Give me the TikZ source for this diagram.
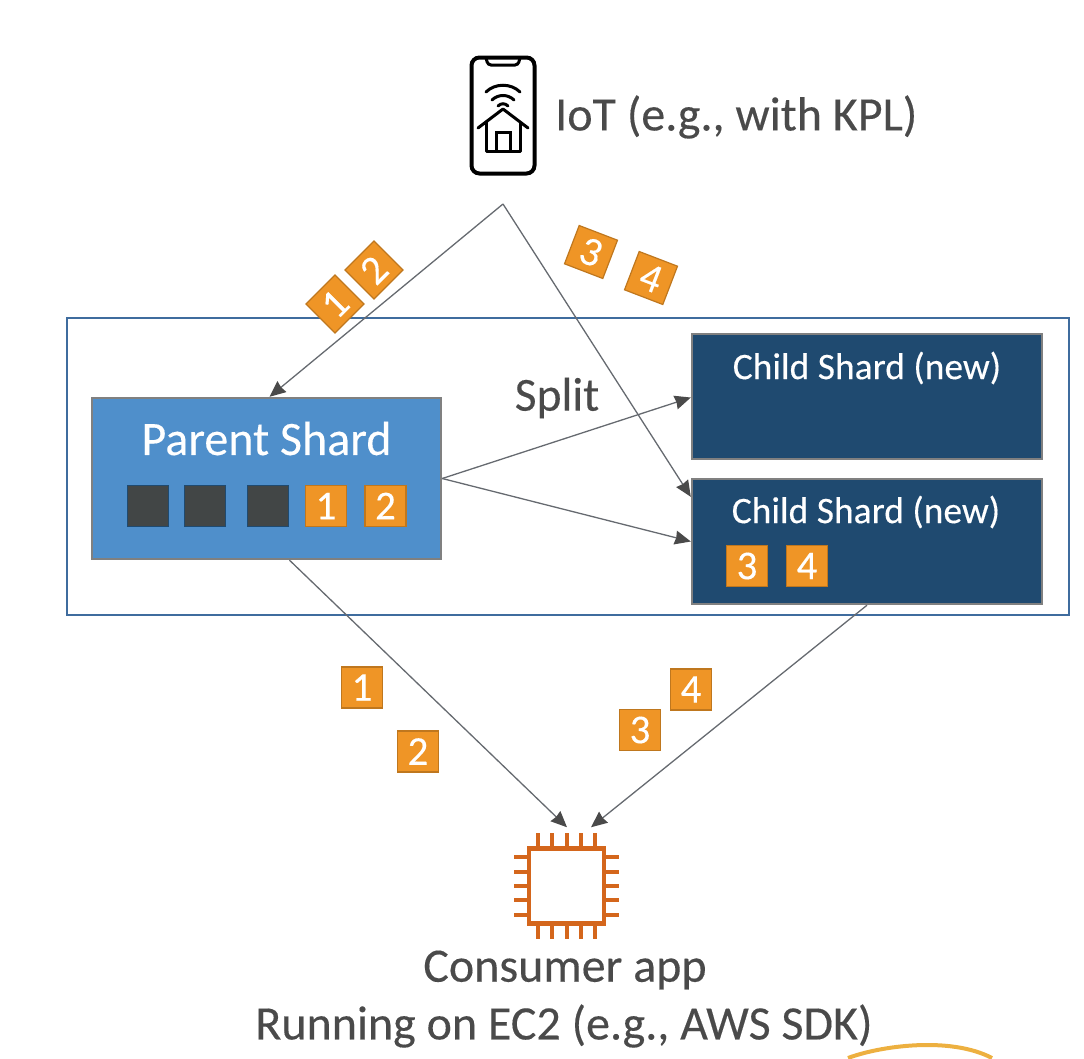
\documentclass[tikz,border=0pt]{standalone}
\usepackage{fontspec}
\setmainfont{Carlito}
\usetikzlibrary{arrows.meta}
\definecolor{txtgray}{HTML}{4A4A4A}
\definecolor{linegray}{HTML}{666A70}
\definecolor{shardblue}{HTML}{4F8FCB}
\definecolor{shardnavy}{HTML}{1F4A70}
\definecolor{frameblue}{HTML}{3F6C9E}
\definecolor{recorange}{HTML}{EF9526}
\definecolor{recdark}{HTML}{424646}
\definecolor{chiporange}{HTML}{D4661C}
\definecolor{arcyellow}{HTML}{EDB040}
\newcommand{\fsz}[1]{\fontsize{#1}{#1}\selectfont\addfontfeature{FakeBold=0.25}}
\tikzset{
    shard/.style={draw=gray,line width=2.4pt,inner sep=0pt,text=white},
    rec/.style={draw=recorange!80!black,line width=1.2pt,fill=recorange,text=white,minimum size=41pt,inner sep=0pt,font=\fsz{41}},
    recoff/.style={draw=shardnavy,line width=1.2pt,fill=recdark,minimum size=41pt,inner sep=0pt},
    lab/.style={text=txtgray,inner sep=0pt},
    flow/.style={draw=linegray,line width=1.3pt,-{Stealth[inset=1pt,length=16pt,width=14pt,color=txtgray,fill=txtgray]}},
}
\begin{document}
\begin{tikzpicture}[x=1pt,y=-1pt]
\useasboundingbox (0,0) rectangle (1084,1058);
\node[draw=frameblue,line width=2pt,minimum width=1002pt,minimum height=297pt,inner sep=0pt] (stream) at (568,466.5) {};
\node[shard,fill=shardblue,minimum width=349pt,minimum height=161pt] (parent) at (266.5,478.5) {};
\node[shard,fill=shardnavy,minimum width=350pt,minimum height=125pt] (childa) at (867,396.5) {};
\node[shard,fill=shardnavy,minimum width=350pt,minimum height=125pt] (childb) at (867,541.5) {};
\node[text=white,inner sep=0pt,font=\fsz{48}] (parentlab) at (266.5,438.5) {Parent Shard};
\node[text=white,inner sep=0pt,font=\fsz{37.5}] (childalab) at (867,368) {Child Shard (new)};
\node[text=white,inner sep=0pt,font=\fsz{37.5}] (childblab) at (866,512) {Child Shard (new)};
% phone with house
\node[draw=black,line width=4pt,rounded corners=8pt,minimum width=63pt,minimum height=116pt,inner sep=0pt] (iot) at (503,115.5) {};
\draw[black,line width=3pt,rounded corners=3pt] (486,58) -- (488,65) -- (518,65) -- (520,58);
\draw[black,line width=3pt,line cap=round] (486,92) .. controls (495,83) and (511,83) .. (520,92);
\draw[black,line width=3pt,line cap=round] (492,100) .. controls (498,94) and (508,94) .. (514,100);
\draw[black,line width=3pt,line cap=round] (498,106) .. controls (501,103) and (505,103) .. (508,106);
\draw[black,line width=3pt,line cap=round,line join=round] (478,128) -- (503,109) -- (528,128);
\draw[black,line width=3pt,line join=round] (486,122) -- (486,151) -- (520,151) -- (520,122);
\draw[black,line width=3pt] (496,151) -- (496,132) -- (510,132) -- (510,151);
\node[lab,anchor=west,font=\fsz{48}] (iotlab) at (555,117) {IoT (e.g., with KPL)};
\coordinate (fork) at (503,204);
\draw[flow] (fork) -- ([xshift=3pt]parent.north);
\draw[flow] (fork) -- ([yshift=-19pt]childb.north west);
\draw[flow] (parent.east) -- ([yshift=-1pt]childa.west);
\draw[flow] (parent.east) -- (childb.west);
\node[lab,font=\fsz{47.5}] (split) at (557,398) {Split};
% chip
\node[draw=chiporange,line width=4.5pt,fill=white,minimum size=75pt,inner sep=0pt] (chip) at (566.5,886) {};
\foreach \i in {-2,...,2} {
    \draw[chiporange,line width=4pt] ([xshift=\i*14.4pt]chip.north) -- ++(0,-13);
    \draw[chiporange,line width=4pt] ([xshift=\i*14.4pt]chip.south) -- ++(0,13);
    \draw[chiporange,line width=4pt] ([yshift=\i*14.4pt]chip.west) -- ++(-13,0);
    \draw[chiporange,line width=4pt] ([yshift=\i*14.4pt]chip.east) -- ++(13,0);
}
\draw[flow] ([xshift=23pt]parent.south) -- ([xshift=0.5pt,yshift=19pt]chip.north);
\draw[flow] (childb.south) -- ([xshift=24.5pt,yshift=19pt]chip.north);
\node[lab,font=\fsz{48}] (applab) at (565,970) {Consumer app};
\node[lab,font=\fsz{48}] (sdklab) at (564,1026) {Running on EC2 (e.g., AWS SDK)};
% records
\node[recoff] at (148,506) (pa) {};
\node[recoff] at (205,506) (pb) {};
\node[recoff] at (268,506) (pc) {};
\node[rec] at (326,506) (pone) {1};
\node[rec] at (385.5,506) (ptwo) {2};
\node[rec] at (747,566) (cthree) {3};
\node[rec] at (807,566) (cfour) {4};
\node[rec,rotate=45] at (335,304) (inone) {1};
\node[rec,rotate=45] at (374,270) (intwo) {2};
\node[rec,rotate=-21] at (591,252) (inthree) {3};
\node[rec,rotate=-21] at (651,278) (infour) {4};
\node[rec] at (362,687.5) (outone) {1};
\node[rec] at (418,751.5) (outtwo) {2};
\node[rec] at (640,730) (outthree) {3};
\node[rec] at (691,689.5) (outfour) {4};
\draw[arcyellow,line width=4pt] (848,1058) .. controls (880,1046) and (950,1036) .. (992,1058);
\end{tikzpicture}
\end{document}
